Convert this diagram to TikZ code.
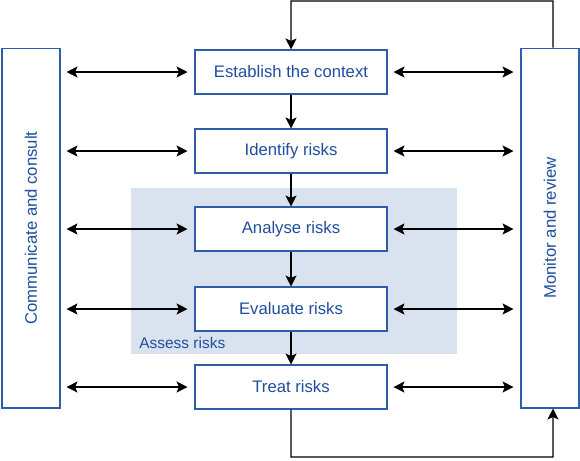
\documentclass[tikz,border=0pt]{standalone}
\usepackage{graphicx}
\usepackage{fontspec}
\setmainfont{Liberation Sans}
\usetikzlibrary{arrows.meta, positioning, calc}
\definecolor{stageblue}{HTML}{2E5EAA}
\definecolor{labelblue}{HTML}{1F4E9F}
\definecolor{assessfill}{HTML}{D9E3EF}

\begin{document}
\begin{tikzpicture}[x=0.02cm, y=-0.02cm,
    stage/.style={draw=stageblue, fill=white, line width=0.6pt, minimum width=3.84cm, minimum height=0.88cm, text=labelblue, font=\fontsize{9.5}{11}\selectfont},
    side/.style={draw=stageblue, fill=white, line width=0.6pt, minimum width=1.16cm, minimum height=7.2cm, text=labelblue, font=\fontsize{9.5}{11}\selectfont},
    rel/.style={draw, line width=0.6pt, {Stealth[length=0.22cm, width=0.22cm, inset=0.05cm]}-{Stealth[length=0.22cm, width=0.22cm, inset=0.05cm]}, shorten <=0.12cm, shorten >=0.14cm},
    flow/.style={draw, line width=0.6pt, -{Stealth[length=0.22cm, width=0.22cm, inset=0.05cm]}}
]
    \useasboundingbox (0,0) rectangle (580,460);

    % assess area
    \node[fill=assessfill, minimum width=6.52cm, minimum height=3.32cm, inner sep=0pt] (assess) at (294,271) {};
    \node[anchor=west, text=labelblue, font=\fontsize{8.8}{10}\selectfont, inner sep=0pt] (assesslbl) at (139,343) {Assess risks};

    % process steps
    \node[stage] (context)  at (291,72)  {Establish the context};
    \node[stage] (identify) at (291,151) {Identify risks};
    \node[stage] (analyse)  at (291,229) {Analyse risks};
    \node[stage] (evaluate) at (291,309) {Evaluate risks};
    \node[stage] (treat)    at (291,387) {Treat risks};

    % side columns
    \node[side] (consult) at (31,228)  {\rotatebox{90}{Communicate and consult}};
    \node[side] (monitor) at (550,228) {\rotatebox{90}{Monitor and review}};

    \coordinate (looptop) at (553,1);
    \coordinate (loopbot) at (553,457);

    \draw[flow] (context)  -- (identify);
    \draw[flow] (identify) -- (analyse);
    \draw[flow] (analyse)  -- (evaluate);
    \draw[flow] (evaluate) -- (treat);

    \foreach \s in {context, identify, analyse, evaluate, treat} {
        \draw[rel] (consult.east |- \s) -- (\s);
        \draw[rel] (\s) -- (monitor.west |- \s);
    }

    \draw[flow] ([xshift=0.06cm]monitor.north) -- (looptop) -| (context.north);
    \draw[flow] (treat.south) |- (loopbot) -- ([xshift=0.06cm]monitor.south);
\end{tikzpicture}
\end{document}
